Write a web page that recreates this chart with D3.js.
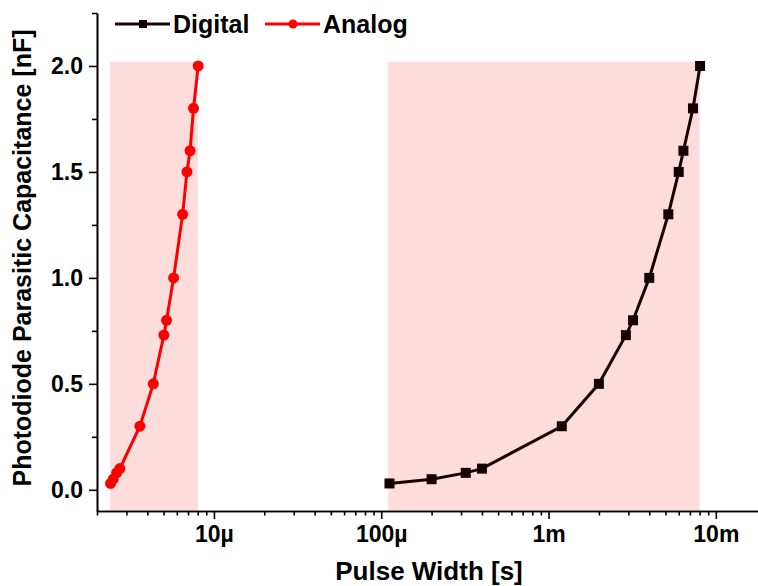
<!DOCTYPE html>
<html>
<head>
<meta charset="utf-8">
<script src="https://cdn.jsdelivr.net/npm/d3@7"></script>
<style>
  body { margin: 0; background: #fff; }
  svg { display: block; font-family: "Liberation Sans", Arial, sans-serif; font-weight: bold; }
  .axis path, .axis line { stroke: #000; stroke-width: 1.6; }
  .axis text { font-family: "Liberation Sans", Arial, sans-serif; font-weight: bold; font-size: 23px; fill: #000; }
</style>
</head>
<body>
<div id="chart"></div>
<script>
// capacitance levels (nF), shared by both series
const capacitance = [0.03, 0.05, 0.08, 0.1, 0.3, 0.5, 0.73, 0.8, 1.0, 1.3, 1.5, 1.6, 1.8, 2.0];
// pulse widths (s)
const analogWidth = [2.41e-6, 2.5e-6, 2.62e-6, 2.74e-6, 3.61e-6, 4.34e-6, 5.02e-6, 5.21e-6, 5.74e-6, 6.5e-6, 6.9e-6, 7.2e-6, 7.55e-6, 8.05e-6];
const digitalWidth = [1.12e-4, 2.0e-4, 3.2e-4, 4.0e-4, 1.2e-3, 2.0e-3, 2.9e-3, 3.2e-3, 4.0e-3, 5.2e-3, 6.0e-3, 6.4e-3, 7.3e-3, 8.05e-3];
// shaded operating ranges
const shadedRanges = [[2.4e-6, 8e-6], [1.1e-4, 8e-3]];
const shadedTop = 2.02;
const xTickValues = [1e-5, 1e-4, 1e-3, 1e-2];
const xTickLabels = ["10µ", "100µ", "1m", "10m"];
const yTickValues = [0, 0.5, 1.0, 1.5, 2.0];
const yMinorValues = [0.25, 0.75, 1.25, 1.75, 2.25];

let margin = { left: 97, top: 13, bottom: 511 },
  width = 758,
  height = 586;

let svg = d3.select("#chart")
  .append("svg")
  .attr("width", width)
  .attr("height", height);

let xScale = d3.scaleLog()
  .domain([2e-6, 2e-2])
  .range([margin.left, margin.left + 167.3 * 4]);

let yScale = d3.scaleLinear()
  .domain([-0.1, 2.25])
  .range([margin.bottom, margin.top]);

// pink bands
svg.append("g")
  .selectAll("rect")
  .data(shadedRanges)
  .enter()
  .append("rect")
  .attr("x", d => xScale(d[0]))
  .attr("y", yScale(shadedTop))
  .attr("width", d => xScale(d[1]) - xScale(d[0]))
  .attr("height", yScale(-0.1) - yScale(shadedTop))
  .attr("fill", "#fddddc");

// minor x ticks
let xMinor = [];
for (let e = -6; e <= -2; e++) {
  for (let m = 2; m <= 9; m++) xMinor.push(m * Math.pow(10, e));
}
xMinor = xMinor.filter(v => v >= 2e-6 && v <= 2e-2);

svg.append("g")
  .attr("class", "axis")
  .attr("transform", "translate(0," + margin.bottom + ")")
  .call(d3.axisBottom(xScale).tickValues(xMinor).tickSize(4.5).tickSizeOuter(0).tickFormat(""));

svg.append("g")
  .attr("class", "axis")
  .attr("transform", "translate(0," + margin.bottom + ")")
  .call(d3.axisBottom(xScale)
    .tickValues(xTickValues)
    .tickSize(8)
    .tickSizeOuter(0)
    .tickPadding(7)
    .tickFormat((d, i) => xTickLabels[i]));

svg.append("g")
  .attr("class", "axis")
  .attr("transform", "translate(" + margin.left + ",0)")
  .call(d3.axisLeft(yScale).tickValues(yMinorValues).tickSize(5).tickSizeOuter(0).tickFormat(""));

svg.append("g")
  .attr("class", "axis")
  .attr("transform", "translate(" + margin.left + ",0)")
  .call(d3.axisLeft(yScale)
    .tickValues(yTickValues)
    .tickSize(8)
    .tickSizeOuter(0)
    .tickPadding(6)
    .tickFormat(d3.format(".1f")));

// axis titles
svg.append("text")
  .attr("x", 429)
  .attr("y", 580)
  .attr("text-anchor", "middle")
  .style("font-size", "26px")
  .text("Pulse Width [s]");

svg.append("text")
  .attr("transform", "translate(31,258) rotate(-90)")
  .attr("text-anchor", "middle")
  .style("font-size", "25px")
  .text("Photodiode Parasitic Capacitance [nF]");

// series
let series = [
  { name: "Digital", x: digitalWidth, color: "#160202", shape: "square" },
  { name: "Analog", x: analogWidth, color: "#ff0000", shape: "circle" }
];

let line = d3.line()
  .x(d => xScale(d[0]))
  .y(d => yScale(d[1]));

series.forEach(s => {
  let pts = s.x.map((v, i) => [v, capacitance[i]]);

  svg.append("path")
    .datum(pts)
    .attr("fill", "none")
    .attr("stroke", s.color)
    .attr("stroke-width", 3)
    .attr("d", line);

  if (s.shape === "circle") {
    svg.append("g")
      .selectAll("circle")
      .data(pts)
      .enter()
      .append("circle")
      .attr("cx", d => xScale(d[0]))
      .attr("cy", d => yScale(d[1]))
      .attr("r", 5.5)
      .attr("fill", s.color);
  } else {
    svg.append("g")
      .selectAll("rect")
      .data(pts)
      .enter()
      .append("rect")
      .attr("x", d => xScale(d[0]) - 5)
      .attr("y", d => yScale(d[1]) - 5)
      .attr("width", 10)
      .attr("height", 10)
      .attr("fill", s.color);
  }
});

// legend
let legend = svg.append("g");
let legendX = [115, 265];

series.forEach((s, i) => {
  let g = legend.append("g").attr("transform", "translate(" + legendX[i] + ",24)");
  g.append("line")
    .attr("x1", 0)
    .attr("x2", 55)
    .attr("stroke", s.color)
    .attr("stroke-width", 3);
  if (s.shape === "circle") {
    g.append("circle").attr("cx", 28).attr("r", 4.5).attr("fill", s.color);
  } else {
    g.append("rect").attr("x", 24).attr("y", -4).attr("width", 8).attr("height", 8).attr("fill", s.color);
  }
  g.append("text")
    .attr("x", 58)
    .attr("y", 9)
    .style("font-size", "25px")
    .text(s.name);
});
</script>
</body>
</html>
